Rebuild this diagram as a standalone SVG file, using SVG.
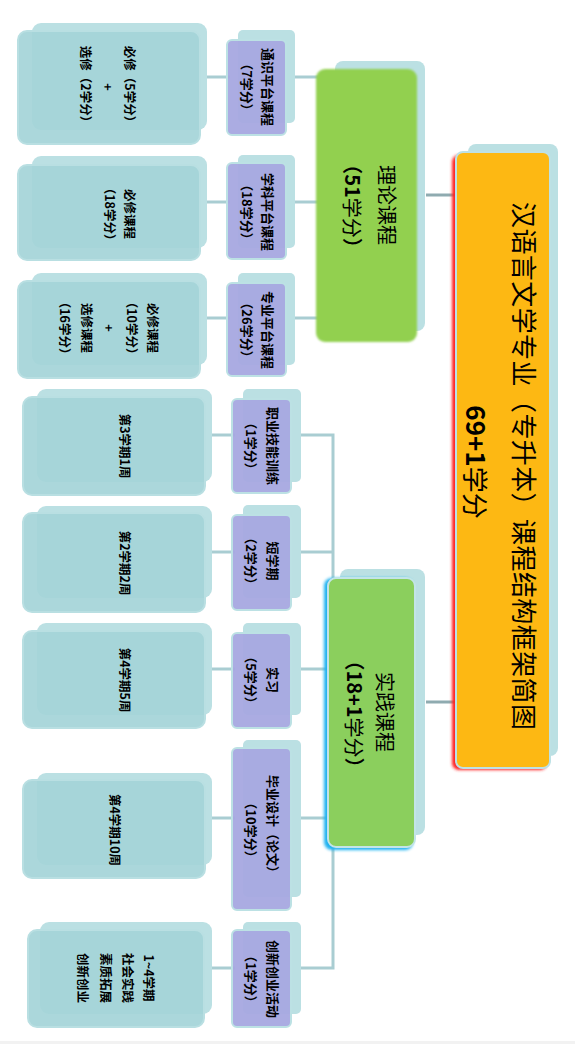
<svg xmlns="http://www.w3.org/2000/svg" width="575" height="1044" viewBox="0 0 575 1044">
<defs>
<style>
.bg{fill:#ffffff}
.sh{fill:#BBE0E3}
.leaf{fill:#A4D4D8;fill-opacity:0.92;stroke:#B9DFE2;stroke-width:2}
.pur{fill:#A7A8E0;fill-opacity:0.95;stroke:#BCE1E4;stroke-width:2}
.cn{stroke:#A9CDD2;stroke-width:3;fill:none}
.cr{stroke:#8FABB0;stroke-width:3;fill:none}
text{font-family:"Noto Sans CJK SC","Liberation Sans",sans-serif;fill:#000;dominant-baseline:central;text-anchor:middle}
.t1{font-size:12.5px;font-weight:700}
.t2{font-size:13px;font-weight:700;font-feature-settings:"halt"}
.fw{font-feature-settings:normal}
.tg{font-size:20px;font-weight:400}
.tgc{font-size:20px;font-weight:700;font-feature-settings:"halt"}
.tr{font-size:26px;font-weight:400}
.trc{font-size:26px;font-weight:700}
.n{font-weight:400}
</style>
<filter id="soft" x="-10%" y="-10%" width="120%" height="120%"><feGaussianBlur stdDeviation="1.2"/></filter>
<filter id="glow" x="-20%" y="-10%" width="140%" height="120%"><feGaussianBlur stdDeviation="1.5"/></filter>
</defs>
<rect class="bg" x="0" y="0" width="575" height="1044"/>
<rect x="0" y="1041" width="575" height="3" fill="#F2F2F2"/>

<g id="connectors">
<line class="cr" x1="426" y1="195" x2="458" y2="195"/>
<line class="cr" x1="426" y1="702" x2="458" y2="702"/>
<line class="cn" x1="288" y1="77" x2="318" y2="77"/>
<line class="cn" x1="288" y1="202" x2="318" y2="202"/>
<line class="cn" x1="288" y1="318" x2="318" y2="318"/>
<line class="cn" x1="203" y1="77" x2="230" y2="77"/>
<line class="cn" x1="203" y1="202" x2="230" y2="202"/>
<line class="cn" x1="203" y1="318" x2="230" y2="318"/>
<polyline class="cn" points="300,435 333,435 333,968 300,968"/>
<line class="cn" x1="300" y1="552" x2="333" y2="552"/>
<line class="cn" x1="300" y1="669" x2="333" y2="669"/>
<line class="cn" x1="300" y1="818" x2="333" y2="818"/>
<line class="cn" x1="208" y1="435" x2="235" y2="435"/>
<line class="cn" x1="208" y1="552" x2="235" y2="552"/>
<line class="cn" x1="208" y1="669" x2="235" y2="669"/>
<line class="cn" x1="208" y1="818" x2="235" y2="818"/>
<line class="cn" x1="208" y1="968" x2="235" y2="968"/>
</g>

<g id="root">
<rect class="sh" x="468" y="144" width="90" height="612" rx="8"/>
<rect x="452" y="155" width="95" height="615" rx="7" fill="#FF2020" filter="url(#glow)"/>
<rect x="456" y="152" width="94" height="616" rx="7" fill="#FDB813" stroke="#BDE1E5" stroke-width="2"/>
<text class="tr" transform="translate(525,466) rotate(90)" textLength="528">汉语言文学专业（专升本）课程结构框架简图</text>
<text class="trc" transform="translate(477,462) rotate(90)">69+1<tspan class="n">学分</tspan></text>
</g>

<g id="theory">
<rect class="sh" x="335" y="61" width="90" height="270" rx="8"/>
<rect x="316" y="69" width="101" height="273" rx="9" fill="#92D050" filter="url(#soft)"/>
<text class="tg" transform="translate(387,205) rotate(90)">理论课程</text>
<text class="tgc" transform="translate(353,206) rotate(90)">（51<tspan class="n">学分</tspan>）</text>
</g>

<g id="practice">
<rect class="sh" x="340" y="569" width="85" height="266" rx="8"/>
<rect x="324" y="578" width="89" height="272" rx="8" fill="#1BB1F0" filter="url(#glow)"/>
<rect x="328" y="578" width="87" height="269" rx="8" fill="#8BCF5D" stroke="#C3E4E7" stroke-width="2"/>
<text class="tg" transform="translate(385,712) rotate(90)">实践课程</text>
<text class="tgc" transform="translate(355,714) rotate(90)">（18+1<tspan class="n">学分</tspan>）</text>
</g>

<g id="p-tongshi">
<rect class="sh" x="238" y="30" width="57" height="93" rx="5"/>
<rect class="pur" x="227" y="40" width="59" height="95" rx="5"/>
<text class="t2" transform="translate(268,87) rotate(90)">通识平台课程</text>
<text class="t2" transform="translate(247,87) rotate(90)">（7学分）</text>
</g>
<g id="l-tongshi">
<rect class="sh" x="32" y="23" width="175" height="107" rx="9"/>
<rect class="leaf" x="18" y="31" width="182" height="113" rx="9"/>
<text class="t1" transform="translate(130,87) rotate(90)">必修（5学分）</text>
<text class="t1" transform="translate(108,87) rotate(90)">+</text>
<text class="t1" transform="translate(86,87) rotate(90)">选修（2学分）</text>
</g>

<g id="p-xueke">
<rect class="sh" x="238" y="155" width="57" height="93" rx="5"/>
<rect class="pur" x="227" y="163" width="59" height="96" rx="5"/>
<text class="t2" transform="translate(268,212) rotate(90)">学科平台课程</text>
<text class="t2" transform="translate(247,212) rotate(90)">（18学分）</text>
</g>
<g id="l-xueke">
<rect class="sh" x="32" y="156" width="175" height="92" rx="9"/>
<rect class="leaf" x="18" y="165" width="182" height="95" rx="9"/>
<text class="t1" transform="translate(130,214) rotate(90)">必修课程</text>
<text class="t1" transform="translate(110,214) rotate(90)">（18学分）</text>
</g>

<g id="p-zhuanye">
<rect class="sh" x="238" y="273" width="57" height="92" rx="5"/>
<rect class="pur" x="227" y="283" width="59" height="93" rx="5"/>
<text class="t2" transform="translate(268,330) rotate(90)">专业平台课程</text>
<text class="t2" transform="translate(247,330) rotate(90)">（26学分）</text>
</g>
<g id="l-zhuanye">
<rect class="sh" x="32" y="273" width="175" height="92" rx="9"/>
<rect class="leaf" x="18" y="281" width="182" height="97" rx="9"/>
<text class="t1" transform="translate(153,328) rotate(90)">必修课程</text>
<text class="t1" transform="translate(132,328) rotate(90)">（10学分）</text>
<text class="t1" transform="translate(109,328) rotate(90)">+</text>
<text class="t1" transform="translate(87,328) rotate(90)">选修课程</text>
<text class="t1" transform="translate(65,328) rotate(90)">（16学分）</text>
</g>

<g id="p-zhiye">
<rect class="sh" x="243" y="389" width="58" height="93" rx="5"/>
<rect class="pur" x="232" y="399" width="59" height="94" rx="5"/>
<text class="t2" transform="translate(273,446) rotate(90)">职业技能训练</text>
<text class="t2" transform="translate(251,446) rotate(90)">（1学分）</text>
</g>
<g id="l-zhiye">
<rect class="sh" x="37" y="389" width="175" height="93" rx="9"/>
<rect class="leaf" x="23" y="397" width="182" height="98" rx="9"/>
<text class="t1" transform="translate(125,446) rotate(90)">第3学期1周</text>
</g>

<g id="p-duan">
<rect class="sh" x="243" y="505" width="58" height="93" rx="5"/>
<rect class="pur" x="232" y="515" width="59" height="95" rx="5"/>
<text class="t2" transform="translate(273,561) rotate(90)">短学期</text>
<text class="t2" transform="translate(251,561) rotate(90)">（2学分）</text>
</g>
<g id="l-duan">
<rect class="sh" x="37" y="506" width="175" height="92" rx="9"/>
<rect class="leaf" x="23" y="513" width="182" height="99" rx="9"/>
<text class="t1" transform="translate(125,563) rotate(90)">第2学期2周</text>
</g>

<g id="p-shixi">
<rect class="sh" x="243" y="623" width="58" height="92" rx="5"/>
<rect class="pur" x="232" y="633" width="59" height="95" rx="5"/>
<text class="t2" transform="translate(273,680) rotate(90)">实习</text>
<text class="t2" transform="translate(251,680) rotate(90)">（5学分）</text>
</g>
<g id="l-shixi">
<rect class="sh" x="37" y="623" width="175" height="92" rx="9"/>
<rect class="leaf" x="23" y="631" width="182" height="97" rx="9"/>
<text class="t1" transform="translate(125,680) rotate(90)">第4学期5周</text>
</g>

<g id="p-biye">
<rect class="sh" x="243" y="740" width="58" height="157" rx="5"/>
<rect class="pur" x="232" y="748" width="59" height="162" rx="5"/>
<text class="t2 fw" transform="translate(273,827) rotate(90)">毕业设计（论文）</text>
<text class="t2" transform="translate(251,830) rotate(90)">（10学分）</text>
</g>
<g id="l-biye">
<rect class="sh" x="37" y="773" width="175" height="92" rx="9"/>
<rect class="leaf" x="23" y="780" width="182" height="98" rx="9"/>
<text class="t1" transform="translate(115,830) rotate(90)">第4学期10周</text>
</g>

<g id="p-chuangxin">
<rect class="sh" x="243" y="922" width="58" height="92" rx="5"/>
<rect class="pur" x="232" y="930" width="59" height="97" rx="5"/>
<text class="t2" transform="translate(273,979) rotate(90)">创新创业活动</text>
<text class="t2" transform="translate(251,979) rotate(90)">（1学分）</text>
</g>
<g id="l-chuangxin">
<rect class="sh" x="40" y="922" width="172" height="92" rx="9"/>
<rect class="leaf" x="28" y="930" width="176" height="97" rx="9"/>
<text class="t1" transform="translate(149,978) rotate(90)">1~4学期</text>
<text class="t1" transform="translate(128,978) rotate(90)">社会实践</text>
<text class="t1" transform="translate(106,978) rotate(90)">素质拓展</text>
<text class="t1" transform="translate(83,978) rotate(90)">创新创业</text>
</g>
</svg>
